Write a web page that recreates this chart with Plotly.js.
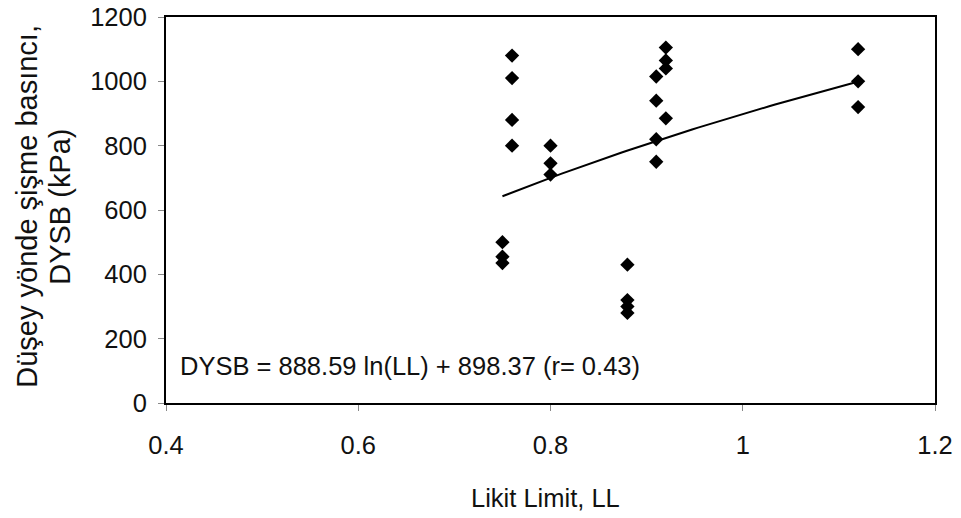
<!DOCTYPE html>
<html>
<head>
<meta charset="utf-8">
<script src="https://cdn.plot.ly/plotly-3.0.1.min.js"></script>
<style>
  html, body { margin: 0; padding: 0; background: #fff; }
  #chart { width: 961px; height: 518px; }
</style>
</head>
<body>
<div id="chart"></div>
<script>
// Liquid limit (LL) of each sample and its vertical swelling pressure (kPa)
const likitLimit = [
  0.75, 0.75, 0.75,
  0.76, 0.76, 0.76, 0.76,
  0.80, 0.80, 0.80,
  0.88, 0.88, 0.88, 0.88,
  0.91, 0.91, 0.91, 0.91,
  0.92, 0.92, 0.92, 0.92,
  1.12, 1.12, 1.12
];
const dysb = [
  500, 455, 435,
  1080, 1010, 880, 800,
  800, 745, 710,
  430, 320, 300, 280,
  1015, 940, 820, 750,
  1105, 1065, 1040, 885,
  1100, 1000, 920
];

// Logarithmic fit: DYSB = a ln(LL) + b
const fitA = 888.59;
const fitB = 898.37;
const fitR = 0.43;

const llMin = Math.min(...likitLimit);
const llMax = Math.max(...likitLimit);
const fitX = [];
const fitY = [];
for (let i = 0; i <= 60; i++) {
  const x = llMin + (llMax - llMin) * i / 60;
  fitX.push(x);
  fitY.push(fitA * Math.log(x) + fitB);
}

const xTicks = [0.4, 0.6, 0.8, 1, 1.2];
const yTicks = [0, 200, 400, 600, 800, 1000, 1200];
const yTitleLines = ['Düşey yönde şişme basıncı,', 'DYSB (kPa)'];

const font = { family: 'Liberation Sans, Arial, sans-serif', color: '#111' };
const f = (size) => Object.assign({ size: size }, font);

const traces = [
  {
    x: fitX, y: fitY, type: 'scatter', mode: 'lines',
    line: { color: '#000', width: 2 }, hoverinfo: 'skip'
  },
  {
    x: likitLimit, y: dysb, type: 'scatter', mode: 'markers',
    marker: { symbol: 'diamond', size: 11, color: '#000' }
  }
];

const layout = {
  width: 961, height: 518,
  margin: { l: 166, r: 26, t: 17, b: 115 },
  paper_bgcolor: '#fff', plot_bgcolor: '#fff',
  showlegend: false,
  font: f(25.5),
  xaxis: {
    range: [0.4, 1.2], tickvals: xTicks, ticktext: xTicks.map(String),
    showgrid: false, zeroline: false,
    showline: true, linecolor: '#000', linewidth: 2, mirror: true,
    ticks: 'outside', ticklen: 6, tickcolor: '#888', tickwidth: 1,
    ticklabelstandoff: 12,
    tickfont: f(25.5)
  },
  yaxis: {
    range: [0, 1200], tickvals: yTicks,
    showgrid: false, zeroline: false,
    showline: true, linecolor: '#000', linewidth: 2, mirror: true,
    ticks: 'outside', ticklen: 6, tickcolor: '#888', tickwidth: 1,
    ticklabelstandoff: 6,
    tickfont: f(25.5)
  },
  annotations: [
    {
      xref: 'paper', yref: 'paper', x: 0.015, y: 0.096,
      xanchor: 'left', yanchor: 'middle', showarrow: false,
      text: 'DYSB = ' + fitA.toFixed(2) + ' ln(LL) + ' + fitB.toFixed(2) + ' (r= ' + fitR.toFixed(2) + ')',
      font: f(25.5)
    },
    {
      xref: 'paper', yref: 'paper', x: 0.494, y: -0.246,
      xanchor: 'center', yanchor: 'middle', showarrow: false,
      text: 'Likit Limit, LL',
      font: f(25.5)
    },
    {
      xref: 'paper', yref: 'paper', x: -0.180, y: 0.51,
      xanchor: 'center', yanchor: 'middle', showarrow: false, textangle: -90,
      text: yTitleLines[0],
      font: f(29)
    },
    {
      xref: 'paper', yref: 'paper', x: -0.138, y: 0.508,
      xanchor: 'center', yanchor: 'middle', showarrow: false, textangle: -90,
      text: yTitleLines[1],
      font: f(29)
    }
  ]
};

Plotly.newPlot('chart', traces, layout, { displayModeBar: false, staticPlot: true });
</script>
</body>
</html>
